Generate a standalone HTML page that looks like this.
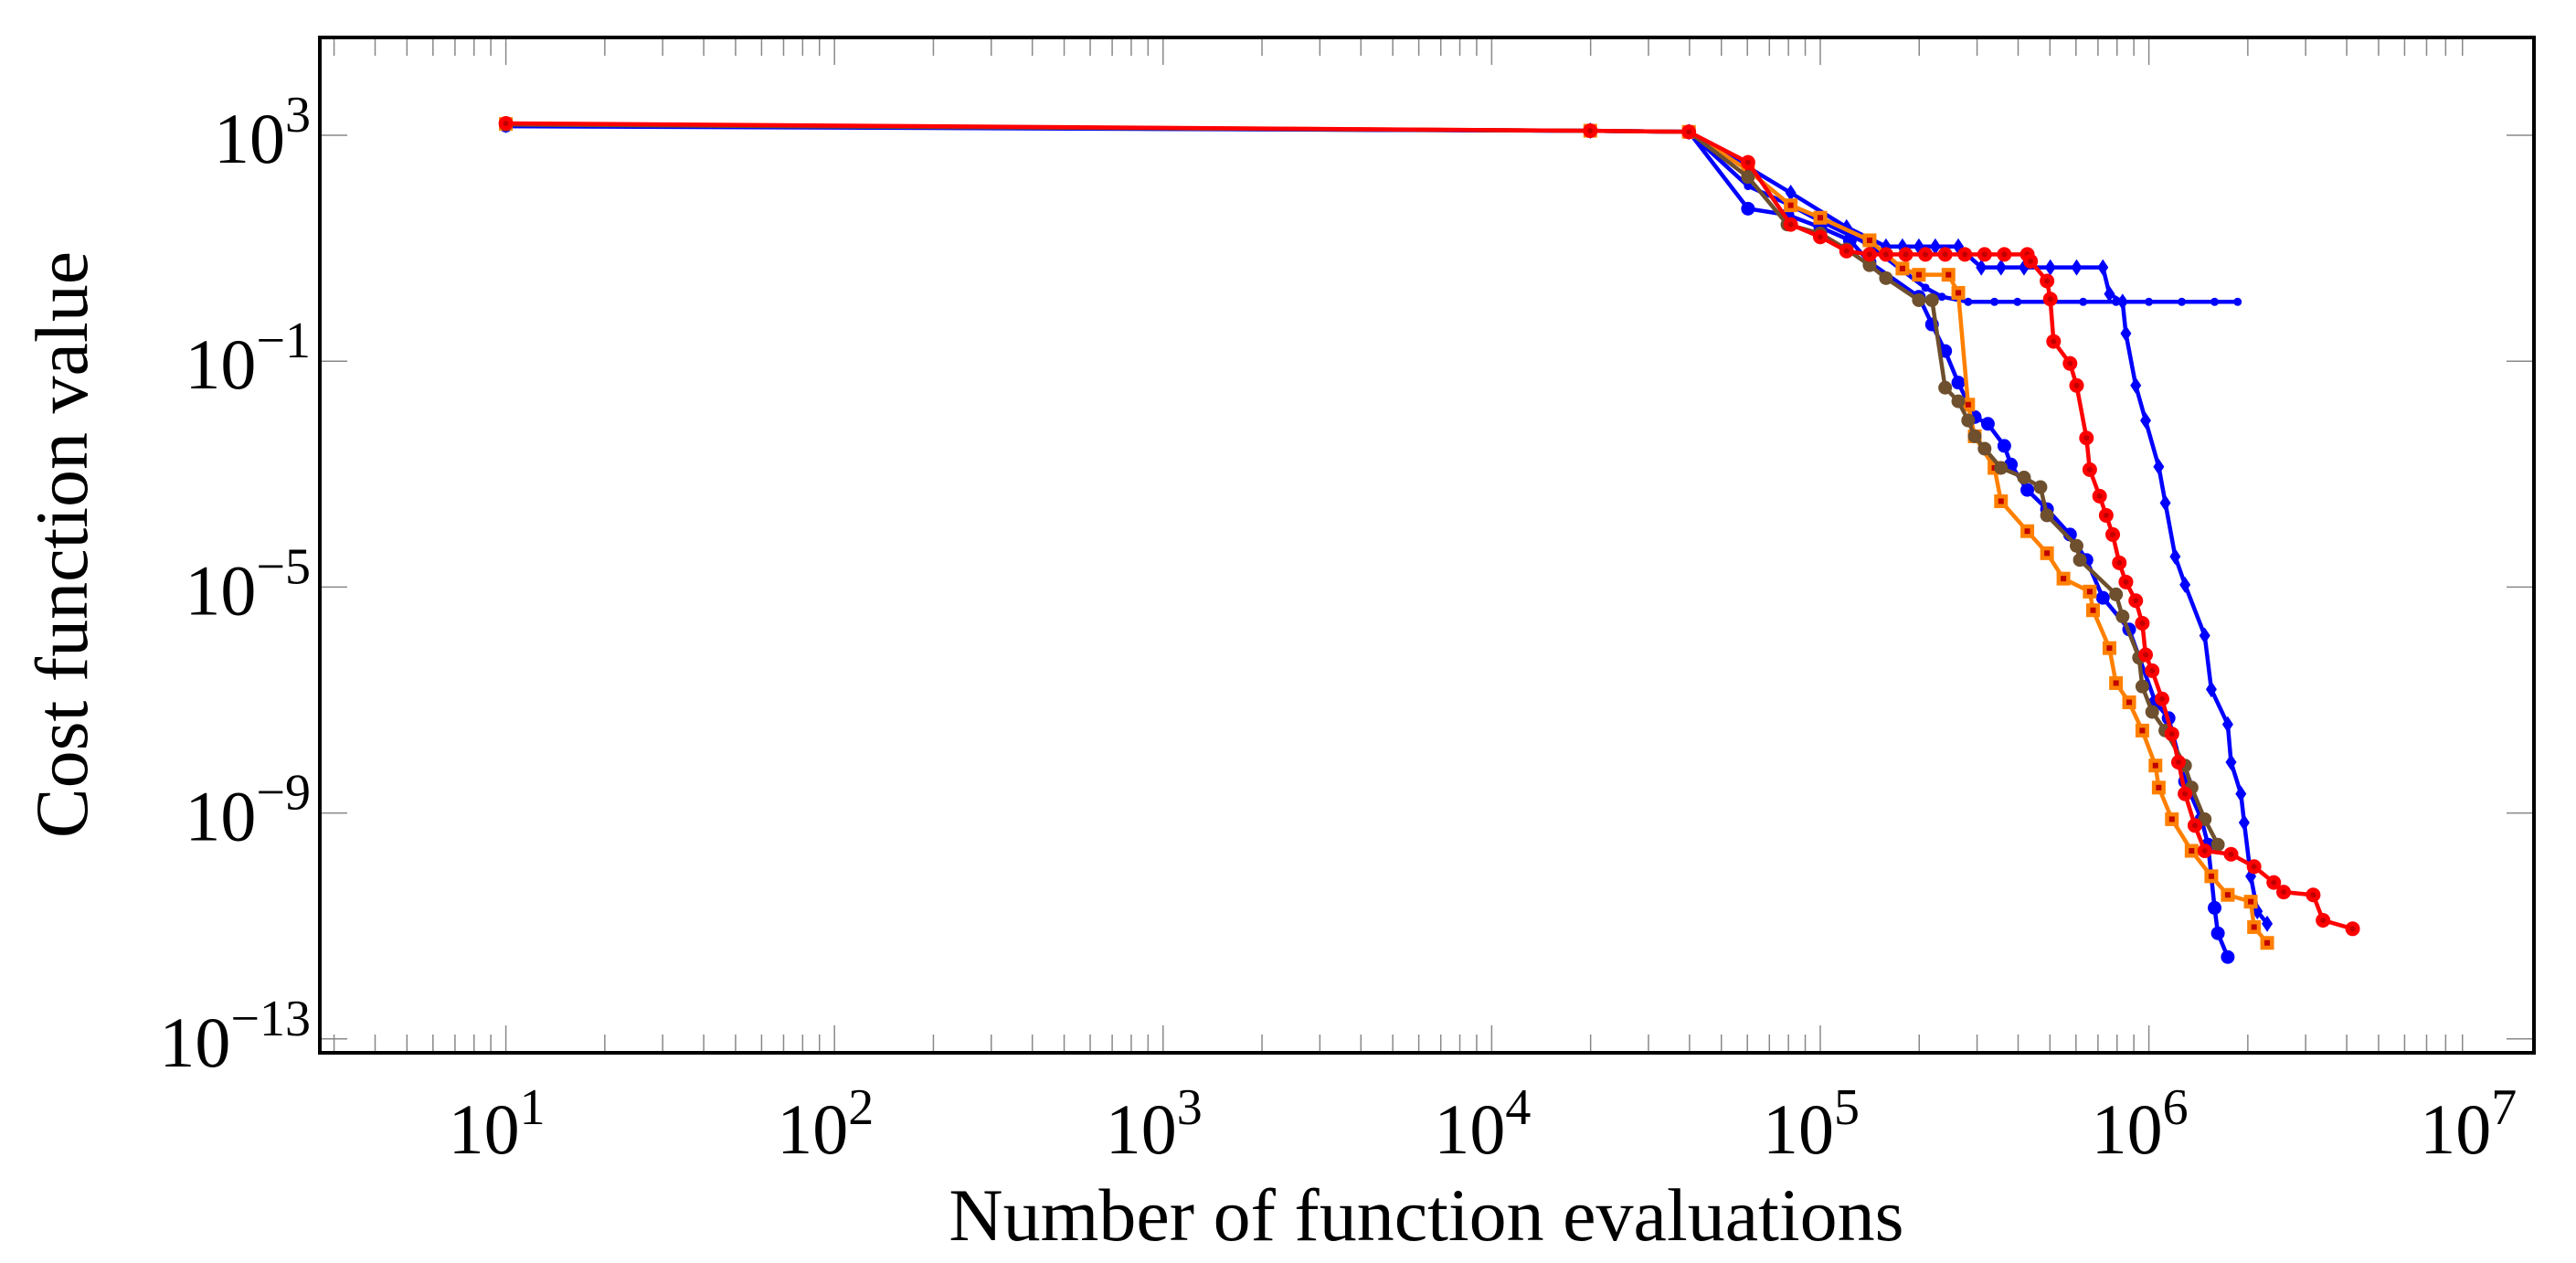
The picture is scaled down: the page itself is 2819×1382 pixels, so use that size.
<!DOCTYPE html>
<html><head><meta charset="utf-8"><style>
html,body{margin:0;padding:0;background:#fff;}
svg{display:block;}
text{font-family:"Liberation Serif",serif;fill:#000;}
</style></head><body>
<svg id="chart" width="2819" height="1382" viewBox="0 0 2819 1382" xmlns="http://www.w3.org/2000/svg">
<g id="grid"></g>
<g id="series"></g>
<rect x="350" y="41" width="2423" height="1111" fill="none" stroke="#000" stroke-width="4"/>
<g id="labels"></g>
<text x="1561" y="1357" font-size="82" text-anchor="middle">Number of function evaluations</text>
<text transform="translate(95,596) rotate(-90)" font-size="82" text-anchor="middle">Cost function value</text>
</svg>
<script>
// data (log10 of evaluations / log10 of cost)
const xTickExps = [1,2,3,4,5,6,7];
const yTickExps = [3,-1,-5,-9,-13];
const blueDiamondX = [1,4.3,4.60,4.91,5.08,5.20,5.25,5.30,5.35,5.42,5.49,5.55,5.62,5.70,5.78,5.86,5.88,5.92,5.93,5.96,5.99,6.03,6.05,6.08,6.11,6.17,6.19,6.24,6.25,6.28,6.29,6.31,6.33,6.36];
const blueDiamondY = [3.18,3.08,3.06,1.98,1.37,1.03,1.03,1.03,1.03,1.03,0.66,0.66,0.66,0.66,0.66,0.66,0.19,0.05,-0.51,-1.43,-2.05,-2.87,-3.51,-4.46,-4.96,-5.86,-6.81,-7.43,-8.10,-8.66,-9.17,-10.12,-10.74,-10.96];
const blueStarX = [1,4.3,4.60,4.78,4.91,5.00,5.14,5.32,5.37,5.45,5.53,5.60,5.70,5.80,5.90,6.00,6.10,6.20,6.27];
const blueStarY = [3.16,3.08,3.06,2.10,1.76,1.48,1.09,0.30,0.14,0.05,0.05,0.05,0.05,0.05,0.05,0.05,0.05,0.05,0.05];
const blueCircleX = [1,4.3,4.60,4.78,4.90,5.00,5.09,5.15,5.30,5.34,5.38,5.42,5.47,5.51,5.56,5.58,5.63,5.69,5.76,5.81,5.86,5.94,6.02,6.06,6.11,6.16,6.18,6.20,6.21,6.24];
const blueCircleY = [3.17,3.08,3.06,1.70,1.59,1.37,1.14,0.75,0.14,-0.35,-0.82,-1.38,-1.99,-2.11,-2.50,-2.83,-3.28,-3.62,-4.07,-4.52,-5.19,-5.75,-7.04,-7.32,-8.44,-9.11,-9.56,-10.68,-11.13,-11.55];
const orangeX = [1,4.3,4.60,4.78,4.91,5.00,5.15,5.25,5.30,5.39,5.42,5.45,5.47,5.53,5.55,5.63,5.69,5.74,5.82,5.83,5.88,5.90,5.94,5.98,6.02,6.03,6.07,6.13,6.19,6.24,6.31,6.32,6.36];
const orangeY = [3.20,3.08,3.06,2.38,1.76,1.54,1.14,0.64,0.53,0.53,0.21,-1.77,-2.33,-2.89,-3.48,-4.01,-4.40,-4.85,-5.08,-5.41,-6.08,-6.70,-7.04,-7.54,-8.16,-8.55,-9.11,-9.67,-10.12,-10.45,-10.57,-11.02,-11.30];
const brownX = [1,4.3,4.60,4.78,4.90,5.00,5.08,5.15,5.20,5.30,5.34,5.38,5.42,5.45,5.47,5.50,5.55,5.62,5.67,5.69,5.78,5.79,5.90,5.92,5.97,5.98,6.01,6.05,6.11,6.13,6.17,6.21];
const brownY = [3.19,3.08,3.06,2.26,1.42,1.26,0.98,0.70,0.47,0.08,0.08,-1.47,-1.71,-2.05,-2.33,-2.55,-2.89,-3.06,-3.23,-3.73,-4.27,-4.52,-5.13,-5.52,-6.25,-6.76,-7.21,-7.54,-8.16,-8.55,-9.11,-9.56];
const redX = [1,4.3,4.60,4.78,4.91,5.00,5.08,5.15,5.20,5.26,5.32,5.38,5.44,5.50,5.56,5.63,5.64,5.69,5.70,5.71,5.76,5.78,5.81,5.82,5.85,5.87,5.89,5.91,5.93,5.96,5.98,5.99,6.01,6.04,6.07,6.09,6.11,6.14,6.17,6.25,6.32,6.38,6.41,6.50,6.53,6.62];
const redY = [3.21,3.08,3.06,2.52,1.42,1.20,0.95,0.89,0.89,0.89,0.89,0.89,0.89,0.89,0.89,0.89,0.77,0.42,0.10,-0.65,-1.04,-1.43,-2.36,-2.92,-3.39,-3.73,-4.07,-4.57,-4.91,-5.24,-5.64,-6.20,-6.48,-6.98,-7.60,-8.10,-8.66,-9.22,-9.67,-9.73,-9.95,-10.23,-10.40,-10.45,-10.90,-11.05];

const L=350,R=2773,T=41,B=1152;
const X0=553.6, XD=359.6, Y0=148, YD=61.8;
function sx(e){return X0+(e-1)*XD;}
function sy(e){return Y0-(e-3)*YD;}
const NS="http://www.w3.org/2000/svg";
function mk(tag,attrs,parent){const el=document.createElementNS(NS,tag);for(const k in attrs)el.setAttribute(k,attrs[k]);parent.appendChild(el);return el;}
const grid=document.getElementById('grid'), labels=document.getElementById('labels'), ser=document.getElementById('series');

for(let d=0; d<=6; d++){
  for(let m=1;m<=9;m++){
    const e=d+Math.log10(m);
    const x=sx(e);
    if(x<L+2||x>R-2)continue;
    const len=m===1?30:20;
    const t1=mk('line',{x1:x,y1:B,x2:x,y2:B-len,stroke:'#888','stroke-width':1.5},grid);
    
    
    const t2=mk('line',{x1:x,y1:T,x2:x,y2:T+len,stroke:'#888','stroke-width':1.5},grid);
    
    
  }
}
xTickExps.forEach(e=>{
  const x=sx(e);
  const t=mk('text',{x:x-10,y:1262,'font-size':78,'text-anchor':'middle'},labels);
  
  
  t.textContent='10';
  const s=mk('tspan',{dy:-32,'font-size':56},t);
  s.textContent=String(e);
});
yTickExps.forEach(e=>{
  const y=sy(e);
  const a=mk('line',{x1:L,y1:y,x2:L+30,y2:y,stroke:'#888','stroke-width':1.5},grid);
  
  
  const b=mk('line',{x1:R,y1:y,x2:R-30,y2:y,stroke:'#888','stroke-width':1.5},grid);
  
  
  const t=mk('text',{x:340,y:y+30,'font-size':78,'text-anchor':'end'},labels);
  
  
  const base=mk('tspan',{},t); base.textContent='10';
  const s=mk('tspan',{dy:-34,'font-size':56}, t);
  s.textContent=e<0?'\u2212'+(-e):String(e);
});

function drawSeries(name,xs,ys,color,marker){
  const g=mk('g',{},ser);
  
  
  const pts=xs.map((x,i)=>sx(x).toFixed(1)+','+sy(ys[i]).toFixed(1)).join(' ');
  const pl=mk('polyline',{points:pts,fill:'none',stroke:color,'stroke-width':4.5,'stroke-linejoin':'round'},g);
  
  
  xs.forEach((x,i)=>{
    const cx=sx(x), cy=sy(ys[i]);
    let m;
    if(marker==='circle'){m=mk('circle',{cx:cx,cy:cy,r:7.5,fill:color},g);}
    else if(marker==='diamond'){m=mk('polygon',{points:`${cx},${cy-9} ${cx+6},${cy} ${cx},${cy+9} ${cx-6},${cy}`,fill:color},g);}
    else if(marker==='star'){m=mk('circle',{cx:cx,cy:cy,r:4.5,fill:color},g);}
    else if(marker==='square'){m=mk('rect',{x:cx-7.5,y:cy-7.5,width:15,height:15,fill:color},g);
      const c=mk('rect',{x:cx-3,y:cy-3,width:6,height:6,fill:'#c00000'},g);
      
      }
    else if(marker==='redcircle'){m=mk('circle',{cx:cx,cy:cy,r:8,fill:color},g);
      const c=mk('circle',{cx:cx,cy:cy,r:3,fill:'#c00000'},g);
      
      }
    
    
  });
}
drawSeries('series-blue-star',blueStarX,blueStarY,'#0000ff','star');
drawSeries('series-blue-diamond',blueDiamondX,blueDiamondY,'#0000ff','diamond');
drawSeries('series-blue-circle',blueCircleX,blueCircleY,'#0000ff','circle');
drawSeries('series-orange-square',orangeX,orangeY,'#ff8000','square');
drawSeries('series-brown-circle',brownX,brownY,'#6e4f2e','circle');
drawSeries('series-red-circle',redX,redY,'#ff0000','redcircle');
</script>
</body></html>
